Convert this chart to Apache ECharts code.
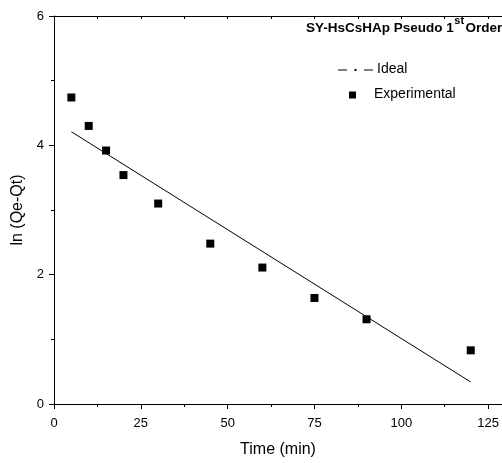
<!DOCTYPE html>
<html>
<head>
<meta charset="utf-8">
<script src="https://cdn.jsdelivr.net/npm/echarts@6/dist/echarts.min.js"></script>
<style>html,body{margin:0;padding:0;background:#fff}#c{width:502px;height:463px}</style>
</head>
<body>
<div id="c"></div>
<script>
// Data
var expTime = [5, 10, 15, 20, 30, 45, 60, 75, 90, 120];
var expLn = [4.74, 4.30, 3.92, 3.54, 3.10, 2.48, 2.11, 1.64, 1.31, 0.83];
var idealTime = [5, 120];
var idealLn = [4.21, 0.34];
var xMajorTicks = [0, 25, 50, 75, 100, 125];
var xMinorTicks = [12.5, 37.5, 62.5, 87.5, 112.5];
var titleMain = 'SY-HsCsHAp Pseudo 1';
var titleSup = 'st';
var titleEnd = 'Order';

var chart = echarts.init(document.getElementById('c'), null, {renderer: 'canvas'});
var FONT = '"Liberation Sans", Arial, sans-serif';
var black = '#000';

function zip(a, b) { return a.map(function (v, i) { return [v, b[i]]; }); }

var ctx = document.createElement('canvas').getContext('2d');
function textW(t, f) { ctx.font = f; return ctx.measureText(t).width; }
var mainFont = 'bold 13.5px ' + FONT;
var supFont = 'bold 11px ' + FONT;
var tX = 306;
var w1 = textW(titleMain, mainFont);
var w2 = textW(titleSup, supFont);

var option = {
  backgroundColor: '#fff',
  animation: false,
  textStyle: {fontFamily: FONT},
  grid: {left: 54, right: 0, top: 16, bottom: 57.5, containLabel: false},
  xAxis: [
    {
      type: 'value', min: 0, max: 129, position: 'bottom',
      axisLine: {show: true, onZero: false, lineStyle: {color: black, width: 1}},
      axisTick: {show: true, inside: false, length: 5, customValues: xMajorTicks, lineStyle: {color: black}},
      axisLabel: {show: true, customValues: xMajorTicks, color: black, fontSize: 13, margin: 13, fontFamily: FONT},
      splitLine: {show: false},
      name: 'Time (min)', nameLocation: 'middle', nameGap: 38,
      nameTextStyle: {color: black, fontSize: 16, fontFamily: FONT}
    },
    {
      type: 'value', min: 0, max: 129, position: 'bottom',
      axisLine: {show: false},
      axisTick: {show: true, inside: false, length: 3, customValues: xMinorTicks, lineStyle: {color: black}},
      axisLabel: {show: false},
      splitLine: {show: false}
    },
    {
      type: 'value', min: 0, max: 129, position: 'top',
      axisLine: {show: true, onZero: false, lineStyle: {color: black, width: 1}},
      axisTick: {show: true, inside: true, length: 3, customValues: xMajorTicks.concat(xMinorTicks), lineStyle: {color: black}},
      axisLabel: {show: false},
      splitLine: {show: false}
    }
  ],
  yAxis: [
    {
      type: 'value', min: 0, max: 6, interval: 2, position: 'left',
      axisLine: {show: true, onZero: false, lineStyle: {color: black, width: 1}},
      axisTick: {show: true, inside: false, length: 5, lineStyle: {color: black}},
      minorTick: {show: true, splitNumber: 2, length: 3, lineStyle: {color: black}},
      axisLabel: {show: true, color: black, fontSize: 13, margin: 10, fontFamily: FONT},
      splitLine: {show: false},
      name: 'ln (Qe-Qt)', nameLocation: 'middle', nameGap: 18,
      nameTextStyle: {color: black, fontSize: 16, fontFamily: FONT}
    }
  ],
  series: [
    {
      name: 'Ideal', type: 'line', xAxisIndex: 0, yAxisIndex: 0,
      data: zip(idealTime, idealLn),
      showSymbol: false, symbol: 'none',
      lineStyle: {color: black, width: 1}
    },
    {
      name: 'Experimental', type: 'scatter', xAxisIndex: 0, yAxisIndex: 0,
      data: zip(expTime, expLn),
      symbol: 'rect', symbolSize: 8,
      itemStyle: {color: black, opacity: 1}
    }
  ],
  graphic: [
    {type: 'text', x: tX, y: 28, style: {text: titleMain, font: mainFont, fill: black, verticalAlign: 'middle', align: 'left'}},
    {type: 'text', x: tX + w1 + 0.5, y: 20.5, style: {text: titleSup, font: supFont, fill: black, verticalAlign: 'middle', align: 'left'}},
    {type: 'text', x: tX + w1 + w2 + 2, y: 28, style: {text: titleEnd, font: mainFont, fill: black, verticalAlign: 'middle', align: 'left'}},
    {type: 'line', shape: {x1: 338, y1: 70, x2: 347, y2: 70}, style: {stroke: black, lineWidth: 1}},
    {type: 'rect', shape: {x: 354.5, y: 69, width: 2, height: 2}, style: {fill: black}},
    {type: 'line', shape: {x1: 364, y1: 70, x2: 373, y2: 70}, style: {stroke: black, lineWidth: 1}},
    {type: 'text', left: 377, top: 62, style: {text: 'Ideal', fontFamily: FONT, fontSize: 14, fill: black}},
    {type: 'rect', shape: {x: 349, y: 91.5, width: 7, height: 7}, style: {fill: black}},
    {type: 'text', left: 374, top: 87, style: {text: 'Experimental', fontFamily: FONT, fontSize: 14, fill: black}}
  ]
};
chart.setOption(option);
</script>
</body>
</html>
